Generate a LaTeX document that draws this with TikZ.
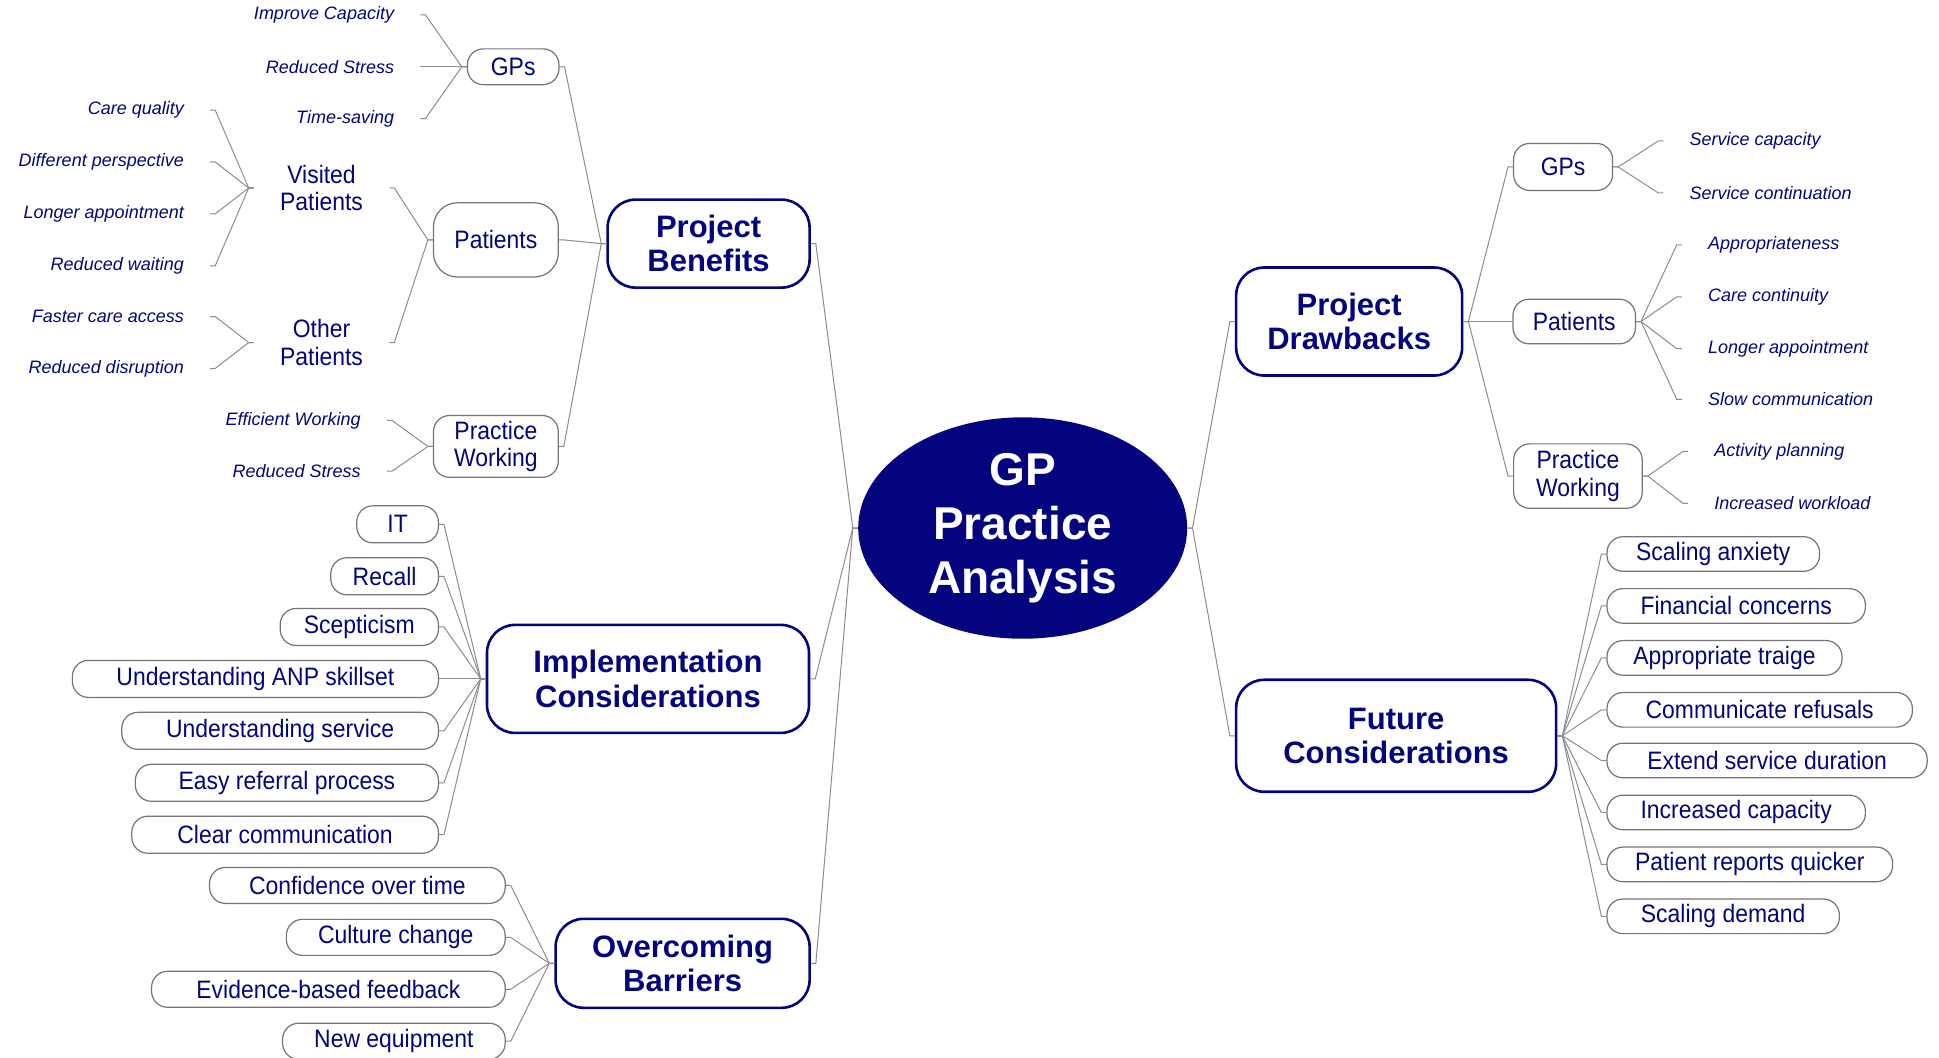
\documentclass[tikz,border=0pt]{standalone}
\usepackage{fontspec}
\setmainfont{Liberation Sans}
\newfontfamily\narrowfont[FakeStretch=0.91]{Liberation Sans}
\usepackage{xcolor}
\usepackage{tikz}
\usetikzlibrary{shapes,positioning}

\definecolor{mmnavy}{RGB}{4,4,126}
\definecolor{mmline}{RGB}{140,140,140}
\definecolor{mmedge}{RGB}{115,115,120}
\newcommand{\mmlink}[2]{\draw[link] (#1.east) -- ++(4,0) -- ([xshift=-2.5pt]#2.west) -- (#2.west);}

\begin{document}
\begin{tikzpicture}[
    x=0.6183pt, y=-0.6183pt,
    centre/.style={ellipse, fill=mmnavy, text=white, font=\fontsize{23}{27}\selectfont\bfseries, align=center, minimum width=164.5pt, minimum height=110.7pt, inner sep=0pt},
    topic/.style={rectangle, rounded corners=14pt, draw=mmnavy, line width=1.3pt, text=mmnavy, font=\fontsize{15.5}{17.3}\selectfont\bfseries, align=center, inner sep=0pt},
    subtopic/.style={rectangle, rounded corners=8pt, draw=mmedge, line width=0.6pt, text=mmnavy, font=\narrowfont\fontsize{12.6}{13.8}\selectfont, align=center, inner sep=0pt},
    plain/.style={text=mmnavy, font=\narrowfont\fontsize{12.6}{13.8}\selectfont, align=center, inner xsep=13pt},
    item/.style={rectangle, rounded corners=8pt, draw=mmedge, line width=0.6pt, text=mmnavy, font=\narrowfont\fontsize{12.6}{13.8}\selectfont, inner sep=0pt},
    leaf/.style={text=mmnavy, font=\fontsize{9}{11}\selectfont\itshape, inner xsep=13pt, inner ysep=2pt},
    link/.style={draw=mmline, line width=0.5pt}
]
    \useasboundingbox (0,0) rectangle (1568,855);

    \node[centre] (gp) at (827,427) {GP\\Practice\\Analysis};

    \node[topic, minimum width=101pt, minimum height=44pt] (benefits) at (573,197) {Project\\Benefits};
    \node[topic, minimum width=161pt, minimum height=54pt] (implement) at (524,549) {Implementation\\Considerations};
    \node[topic, minimum width=127pt, minimum height=44.5pt] (barriers) at (552,779) {Overcoming\\Barriers};
    \node[topic, minimum width=113pt, minimum height=54pt] (drawbacks) at (1091,260) {Project\\Drawbacks};
    \node[topic, minimum width=160pt, minimum height=56pt] (future) at (1129,595) {Future\\Considerations};

    \node[subtopic, minimum width=45.8pt, minimum height=17.9pt] (lgps) at (415,54) {GPs};
    \node[subtopic, minimum width=62.4pt, minimum height=37.1pt, rounded corners=12pt] (lpatients) at (401,194) {Patients};
    \node[subtopic, minimum width=62.4pt, minimum height=30.9pt] (lpractice) at (401,361) {Practice\\Working};
    \node[plain] (visited) at (260,152) {Visited\\Patients};
    \node[plain] (other) at (260,277) {Other\\Patients};

    \node[leaf, anchor=east] (capacity) at (340,12) {Improve Capacity};
    \node[leaf, anchor=east] (gpstress) at (340,54) {Reduced Stress};
    \node[leaf, anchor=east] (timesaving) at (340,96) {Time-saving};
    \node[leaf, anchor=east] (quality) at (170,89) {Care quality};
    \node[leaf, anchor=east] (perspective) at (170,131) {Different perspective};
    \node[leaf, anchor=east] (lappoint) at (170,173) {Longer appointment};
    \node[leaf, anchor=east] (waiting) at (170,215) {Reduced waiting};
    \node[leaf, anchor=east] (access) at (170,256) {Faster care access};
    \node[leaf, anchor=east] (disruption) at (170,298) {Reduced disruption};
    \node[leaf, anchor=east] (efficient) at (313,340) {Efficient Working};
    \node[leaf, anchor=east] (pwstress) at (313,381) {Reduced Stress};

    \node[item, anchor=east, minimum width=40.8pt, minimum height=18.5pt] (it) at (355,424) {IT};
    \node[item, anchor=east, minimum width=53.8pt, minimum height=18.5pt] (recall) at (355,466) {Recall};
    \node[item, anchor=east, minimum width=79.1pt, minimum height=18.5pt] (sceptic) at (355,507) {Scepticism};
    \node[item, anchor=east, minimum width=183pt, minimum height=18.5pt] (skillset) at (355,549) {Understanding ANP skillset};
    \node[item, anchor=east, minimum width=158.3pt, minimum height=18.5pt] (service) at (355,591) {Understanding service};
    \node[item, anchor=east, minimum width=151.5pt, minimum height=18.5pt] (referral) at (355,633) {Easy referral process};
    \node[item, anchor=east, minimum width=153.3pt, minimum height=18.5pt] (clear) at (355,675) {Clear communication};

    \node[item, anchor=east, minimum width=147.8pt, minimum height=18pt] (confidence) at (409,716) {Confidence over time};
    \node[item, anchor=east, minimum width=109.4pt, minimum height=18pt] (culture) at (409,758) {Culture change};
    \node[item, anchor=east, minimum width=176.8pt, minimum height=18pt] (evidence) at (409,800) {Evidence-based feedback};
    \node[item, anchor=east, minimum width=111.3pt, minimum height=18pt] (equipment) at (409,842) {New equipment};

    \node[subtopic, minimum width=49.5pt, minimum height=23.5pt] (rgps) at (1264,135) {GPs};
    \node[subtopic, minimum width=61.2pt, minimum height=22.3pt] (rpatients) at (1273,260) {Patients};
    \node[subtopic, minimum width=64.3pt, minimum height=32.2pt] (rpractice) at (1276,385) {Practice\\Working};

    \node[leaf, anchor=west] (servcap) at (1345,114) {Service capacity};
    \node[leaf, anchor=west] (servcont) at (1345,156) {Service continuation};
    \node[leaf, anchor=west] (approp) at (1360,198) {Appropriateness};
    \node[leaf, anchor=west] (continuity) at (1360,240) {Care continuity};
    \node[leaf, anchor=west] (rappoint) at (1360,282) {Longer appointment};
    \node[leaf, anchor=west] (slow) at (1360,323) {Slow communication};
    \node[leaf, anchor=west] (planning) at (1365,365) {Activity planning};
    \node[leaf, anchor=west] (workload) at (1365,407) {Increased workload};

    \node[item, anchor=west, minimum width=106.3pt, minimum height=17.3pt] (anxiety) at (1299,448) {Scaling anxiety};
    \node[item, anchor=west, minimum width=129.2pt, minimum height=17.3pt] (financial) at (1299,490) {Financial concerns};
    \node[item, anchor=west, minimum width=117.5pt, minimum height=17.3pt] (triage) at (1299,532) {Appropriate traige};
    \node[item, anchor=west, minimum width=152.7pt, minimum height=17.3pt] (refusals) at (1299,574) {Communicate refusals};
    \node[item, anchor=west, minimum width=160.1pt, minimum height=17.3pt] (duration) at (1299,615) {Extend service duration};
    \node[item, anchor=west, minimum width=129.2pt, minimum height=17.3pt] (increased) at (1299,657) {Increased capacity};
    \node[item, anchor=west, minimum width=142.8pt, minimum height=17.3pt] (reports) at (1299,699) {Patient reports quicker};
    \node[item, anchor=west, minimum width=116.2pt, minimum height=17.3pt] (demand) at (1299,741) {Scaling demand};

    \mmlink{benefits}{gp}
    \mmlink{implement}{gp}
    \mmlink{barriers}{gp}
    \mmlink{gp}{drawbacks}
    \mmlink{gp}{future}

    \mmlink{lgps}{benefits}
    \mmlink{lpatients}{benefits}
    \mmlink{lpractice}{benefits}
    \mmlink{capacity}{lgps}
    \mmlink{gpstress}{lgps}
    \mmlink{timesaving}{lgps}
    \mmlink{visited}{lpatients}
    \mmlink{other}{lpatients}
    \mmlink{quality}{visited}
    \mmlink{perspective}{visited}
    \mmlink{lappoint}{visited}
    \mmlink{waiting}{visited}
    \mmlink{access}{other}
    \mmlink{disruption}{other}
    \mmlink{efficient}{lpractice}
    \mmlink{pwstress}{lpractice}

    \mmlink{it}{implement}
    \mmlink{recall}{implement}
    \mmlink{sceptic}{implement}
    \mmlink{skillset}{implement}
    \mmlink{service}{implement}
    \mmlink{referral}{implement}
    \mmlink{clear}{implement}
    \mmlink{confidence}{barriers}
    \mmlink{culture}{barriers}
    \mmlink{evidence}{barriers}
    \mmlink{equipment}{barriers}

    \mmlink{drawbacks}{rgps}
    \mmlink{drawbacks}{rpatients}
    \mmlink{drawbacks}{rpractice}
    \mmlink{rgps}{servcap}
    \mmlink{rgps}{servcont}
    \mmlink{rpatients}{approp}
    \mmlink{rpatients}{continuity}
    \mmlink{rpatients}{rappoint}
    \mmlink{rpatients}{slow}
    \mmlink{rpractice}{planning}
    \mmlink{rpractice}{workload}

    \mmlink{future}{anxiety}
    \mmlink{future}{financial}
    \mmlink{future}{triage}
    \mmlink{future}{refusals}
    \mmlink{future}{duration}
    \mmlink{future}{increased}
    \mmlink{future}{reports}
    \mmlink{future}{demand}

\end{tikzpicture}
\end{document}
